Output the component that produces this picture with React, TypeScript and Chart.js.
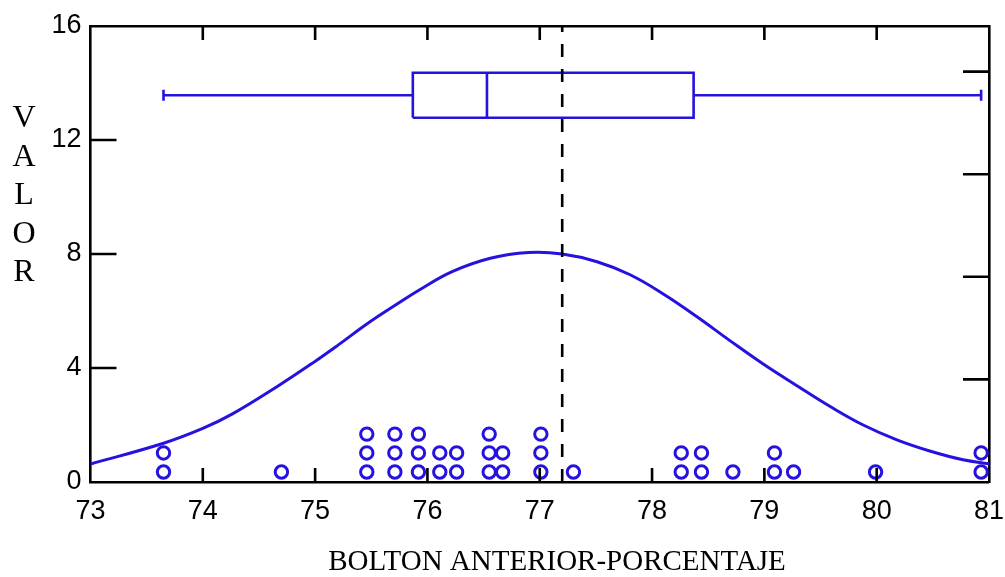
import React, { useEffect, useRef } from "react";
import { Chart, registerables } from "chart.js";

Chart.register(...registerables);

// ---- data ----
const X_MIN = 73;
const X_MAX = 81;
const Y_MIN = 0;
const Y_MAX = 16;
const sampleSize = 36;
const rightAxisTicks = [10, 20, 30, 40]; // percent of sample (unlabelled right axis)

const xTitle = "BOLTON ANTERIOR-PORCENTAJE";
const yTitleLetters = ["V", "A", "L", "O", "R"];

// fitted normal curve
const curveX = [73.0, 73.65, 74.0, 74.26, 74.67, 74.98, 75.21, 75.47, 75.74, 75.92, 76.22, 76.56, 76.9, 77.2, 77.51, 77.8, 78.1, 78.4, 78.69, 78.99, 79.29, 79.59, 79.88, 80.18, 80.48, 80.77, 81.0];
const curveY = [0.63, 1.36, 1.88, 2.38, 3.37, 4.18, 4.82, 5.57, 6.27, 6.72, 7.38, 7.85, 8.05, 8.0, 7.73, 7.28, 6.6, 5.8, 4.97, 4.14, 3.38, 2.64, 2.0, 1.48, 1.08, 0.78, 0.64];

// stacked dot plot of the 36 observations
const dotX = [
  73.65, 73.65,
  74.7,
  75.46, 75.46, 75.46,
  75.71, 75.71, 75.71,
  75.92, 75.92, 75.92,
  76.11, 76.11,
  76.26, 76.26,
  76.55, 76.55, 76.55,
  76.67, 76.67,
  77.01, 77.01, 77.01,
  77.3,
  78.26, 78.26,
  78.44, 78.44,
  78.72,
  79.09, 79.09,
  79.26,
  79.99,
  80.93, 80.93,
];
const dotY = [
  0.35, 1.02,
  0.35,
  0.35, 1.02, 1.68,
  0.35, 1.02, 1.68,
  0.35, 1.02, 1.68,
  0.35, 1.02,
  0.35, 1.02,
  0.35, 1.02, 1.68,
  0.35, 1.02,
  0.35, 1.02, 1.68,
  0.35,
  0.35, 1.02,
  0.35, 1.02,
  0.35,
  0.35, 1.02,
  0.35,
  0.35,
  0.35, 1.02,
];

// box plot: min, q1, median, q3, max
const boxStats = [73.65, 75.87, 76.53, 78.37, 80.93];
// box band: bottom, whisker level, top
const boxBand = [12.78, 13.57, 14.36];
const capHalf = 0.19;
const meanValue = 77.2;

const BLUE = "rgb(38, 18, 222)";

export default function App() {
  const ref = useRef<HTMLCanvasElement | null>(null);

  useEffect(() => {
    if (!ref.current) return;
    document.body.style.margin = "0";
    document.body.style.overflow = "hidden";

    const [bMin, q1, med, q3, bMax] = boxStats;
    const [lo, mid, hi] = boxBand;

    const lineDs = (data: { x: number; y: number }[], extra: any = {}) => ({
      data,
      showLine: true,
      borderColor: BLUE,
      borderWidth: 2.6,
      pointRadius: 0,
      tension: 0,
      fill: false,
      ...extra,
    });

    const framePlugin = {
      id: "frame",
      afterDraw(chart: any) {
        const { ctx, chartArea: a, scales } = chart;
        ctx.save();
        ctx.strokeStyle = "#000";
        ctx.lineWidth = 2.6;
        ctx.beginPath();
        scales.x.ticks.forEach((t: any) => {
          if (t.value > X_MIN && t.value < X_MAX) {
            const px = scales.x.getPixelForValue(t.value);
            ctx.moveTo(px, a.bottom);
            ctx.lineTo(px, a.bottom - 14);
            ctx.moveTo(px, a.top);
            ctx.lineTo(px, a.top + 14);
          }
        });
        scales.y.ticks.forEach((t: any) => {
          if (t.value > Y_MIN && t.value < Y_MAX) {
            const py = scales.y.getPixelForValue(t.value);
            ctx.moveTo(a.left, py);
            ctx.lineTo(a.left + 26, py);
          }
        });
        rightAxisTicks.forEach((v) => {
          const py = scales.y2.getPixelForValue(v);
          ctx.moveTo(a.right, py);
          ctx.lineTo(a.right - 26, py);
        });
        ctx.stroke();

        ctx.fillStyle = "#000";
        ctx.textAlign = "center";
        ctx.textBaseline = "middle";
        ctx.font = '29px "Liberation Serif"';
        ctx.fillText(xTitle, 557, 562);
        ctx.font = '32px "Liberation Serif"';
        yTitleLetters.forEach((ch, i) => ctx.fillText(ch, 24, 119 + i * 38.5));
        ctx.restore();
      },
    };

    const tickFont = { family: '"Liberation Sans", Arial, sans-serif', size: 27 };

    const chart = new Chart(ref.current, {
      type: "scatter",
      data: {
        datasets: [
          lineDs(
            [
              { x: meanValue, y: Y_MIN },
              { x: meanValue, y: Y_MAX },
            ],
            { borderColor: "#000", borderDash: [13, 12] }
          ),
          lineDs([
            { x: med, y: lo },
            { x: med, y: hi },
          ]),
          lineDs([
            { x: q1, y: lo },
            { x: q3, y: lo },
            { x: q3, y: hi },
            { x: q1, y: hi },
            { x: q1, y: lo },
          ]),
          lineDs([
            { x: bMin, y: mid },
            { x: q1, y: mid },
          ]),
          lineDs([
            { x: q3, y: mid },
            { x: bMax, y: mid },
          ]),
          lineDs([
            { x: bMin, y: mid - capHalf },
            { x: bMin, y: mid + capHalf },
          ]),
          lineDs([
            { x: bMax, y: mid - capHalf },
            { x: bMax, y: mid + capHalf },
          ]),
          {
            data: dotX.map((x, i) => ({ x, y: dotY[i] })),
            showLine: false,
            pointRadius: 6.2,
            pointBorderWidth: 3,
            pointBorderColor: BLUE,
            pointBackgroundColor: "rgba(0,0,0,0)",
            clip: false,
          } as any,
          lineDs(
            curveX.map((x, i) => ({ x, y: curveY[i] })),
            { tension: 0.4, borderWidth: 3 }
          ),
        ],
      },
      options: {
        animation: false,
        responsive: true,
        maintainAspectRatio: false,
        events: [],
        layout: { padding: { top: 26, left: 0, right: 0, bottom: 0 } },
        plugins: { legend: { display: false }, tooltip: { enabled: false } },
        scales: {
          x: {
            type: "linear",
            position: "bottom",
            min: X_MIN,
            max: X_MAX,
            ticks: { stepSize: 1, font: tickFont, color: "#000", padding: 13, autoSkip: false, maxRotation: 0 },
            grid: { drawOnChartArea: false, drawTicks: false },
            border: { display: true, color: "#000", width: 2.6 },
            afterFit: (s: any) => {
              s.height = 95;
            },
          },
          x2: {
            type: "linear",
            position: "top",
            min: X_MIN,
            max: X_MAX,
            ticks: { display: false, stepSize: 1 },
            grid: { drawOnChartArea: false, drawTicks: false },
            border: { display: true, color: "#000", width: 2.6 },
            afterFit: (s: any) => {
              s.height = 0;
            },
          },
          y: {
            type: "linear",
            position: "left",
            min: Y_MIN,
            max: Y_MAX,
            ticks: { stepSize: 4, font: tickFont, color: "#000", padding: 9 },
            grid: { drawOnChartArea: false, drawTicks: false },
            border: { display: true, color: "#000", width: 2.6 },
            afterFit: (s: any) => {
              s.width = 90.5;
            },
          },
          y2: {
            type: "linear",
            position: "right",
            min: 0,
            max: (Y_MAX / sampleSize) * 100,
            ticks: { display: false, stepSize: 10 },
            grid: { drawOnChartArea: false, drawTicks: false },
            border: { display: true, color: "#000", width: 2.6 },
            afterFit: (s: any) => {
              s.width = 16;
            },
          },
        },
      } as any,
      plugins: [framePlugin],
    });

    return () => chart.destroy();
  }, []);

  return (
    <div style={{ position: "fixed", left: 0, top: 0, width: 1005, height: 577, overflow: "hidden", background: "#fff" }}>
      <div style={{ position: "absolute", left: 0, top: 0, width: 1017, height: 577 }}>
        <canvas ref={ref} style={{ display: "block" }} />
      </div>
    </div>
  );
}
